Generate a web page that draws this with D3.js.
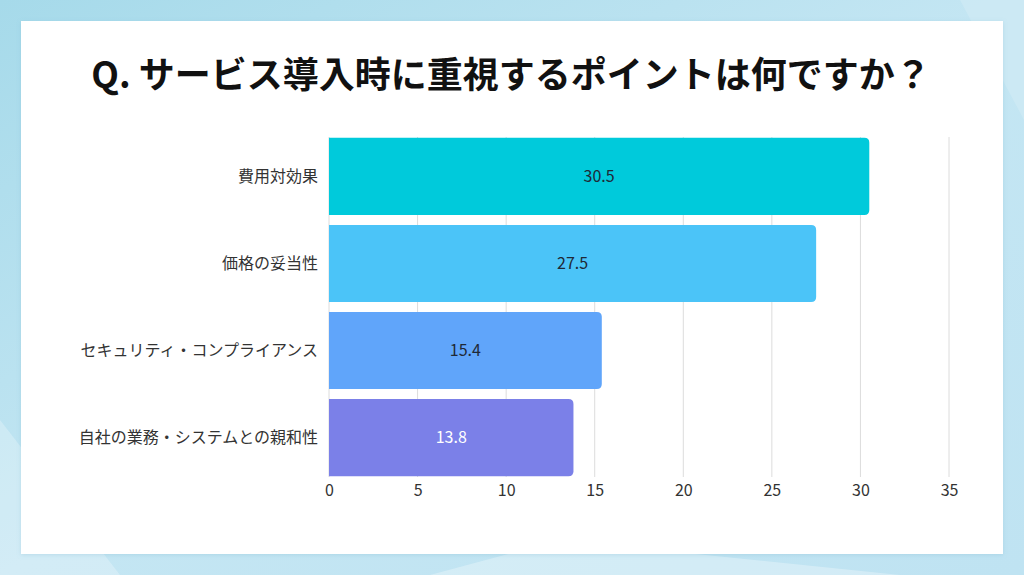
<!DOCTYPE html>
<html>
<head>
<meta charset="utf-8">
<script src="https://cdn.jsdelivr.net/npm/d3@7"></script>
<style>
  html, body { margin: 0; padding: 0; }
  body { width: 1024px; height: 575px; overflow: hidden; }
  svg { display: block; font-family: "Noto Sans CJK JP", "Noto Sans", sans-serif; }
</style>
</head>
<body>
<svg id="chart" width="1024" height="575"></svg>
<script>
const titleText = "Q. サービス導入時に重視するポイントは何ですか？";
const categories = ["費用対効果", "価格の妥当性", "セキュリティ・コンプライアンス", "自社の業務・システムとの親和性"];
const values = [30.5, 27.5, 15.4, 13.8];
const barColors = ["#00cadb", "#4bc4f8", "#60a5fa", "#7b80e8"];
const labelColors = ["#1f2937", "#1f2937", "#1f2937", "#ffffff"];
const tickValues = [0, 5, 10, 15, 20, 25, 30, 35];

const W = 1024, H = 575;
const margin = {left: 329, right: 75, top: 137, bottom: 98};
const svg = d3.select("#chart");

// background
var defs = svg.append("defs");
var bg = defs.append("linearGradient").attr("id", "bg")
    .attr("x1", 0).attr("y1", 0).attr("x2", 1).attr("y2", 1);
bg.append("stop").attr("offset", "0%").attr("stop-color", "#a6daea");
bg.append("stop").attr("offset", "50%").attr("stop-color", "#c4e6f3");
bg.append("stop").attr("offset", "100%").attr("stop-color", "#bfe3f2");
svg.append("rect").attr("width", W).attr("height", H).attr("fill", "url(#bg)");
// faint light shapes in the backdrop
svg.append("path").attr("d", "M0,420 L120,575 L0,575Z").attr("fill", "#ffffff").attr("opacity", 0.25);
svg.append("path").attr("d", "M430,575 L560,540 L900,575Z").attr("fill", "#ffffff").attr("opacity", 0.3);
svg.append("path").attr("d", "M1024,120 L960,0 L1024,0Z").attr("fill", "#ffffff").attr("opacity", 0.15);

// white card with a soft shadow
var sh = defs.append("filter").attr("id", "shadow").attr("x", "-5%").attr("y", "-5%").attr("width", "110%").attr("height", "110%");
sh.append("feDropShadow").attr("dx", 0).attr("dy", 1).attr("stdDeviation", 2)
    .attr("flood-color", "#6aa9c4").attr("flood-opacity", 0.25);
svg.append("rect").attr("x", 21).attr("y", 21).attr("width", 982).attr("height", 533)
    .attr("fill", "#ffffff").attr("filter", "url(#shadow)");

svg.append("text").attr("x", 511).attr("y", 88)
    .attr("text-anchor", "middle").attr("font-size", 36).attr("font-weight", 700)
    .attr("fill", "#111111").text(titleText);

var x = d3.scaleLinear().domain([0, 35]).range([margin.left, W - margin.right]);
var y = d3.scaleBand().domain(categories).range([margin.top, H - margin.bottom]).paddingInner(0.115).paddingOuter(0.01);

// gridlines
svg.append("g").selectAll("line").data(tickValues).join("line")
    .attr("x1", d => x(d)).attr("x2", d => x(d))
    .attr("y1", margin.top).attr("y2", H - margin.bottom)
    .attr("stroke", "#dcdcdc").attr("stroke-width", 1);

// x axis labels
var xAxis = d3.axisBottom(x).tickValues(tickValues).tickSize(0).tickPadding(8);
var gx = svg.append("g").attr("transform", "translate(0," + (H - margin.bottom) + ")").call(xAxis);
gx.select(".domain").remove();
gx.selectAll("text").attr("font-size", 16).attr("fill", "#333333")
    .attr("font-family", "'Noto Sans CJK JP', sans-serif");

// y axis labels
var yAxis = d3.axisLeft(y).tickSize(0).tickPadding(11);
var gy = svg.append("g").attr("transform", "translate(" + margin.left + ",0)").call(yAxis);
gy.select(".domain").remove();
gy.selectAll("text").attr("font-size", 16).attr("fill", "#333333")
    .attr("font-family", "'Noto Sans CJK JP', sans-serif");

// bars: square on the left, rounded on the right
var r = 5;
var barPath = function(d, i){
    var x0 = x(0), x1 = x(d), y0 = y(categories[i]), h = y.bandwidth();
    return "M" + x0 + "," + y0 + "H" + (x1 - r) + "Q" + x1 + "," + y0 + " " + x1 + "," + (y0 + r)
        + "V" + (y0 + h - r) + "Q" + x1 + "," + (y0 + h) + " " + (x1 - r) + "," + (y0 + h)
        + "H" + x0 + "Z";
};
svg.append("g").selectAll("path").data(values).join("path")
    .attr("d", barPath)
    .attr("fill", (d, i) => barColors[i]);

svg.append("g").selectAll("text").data(values).join("text")
    .attr("x", d => (x(0) + x(d)) / 2)
    .attr("y", (d, i) => y(categories[i]) + y.bandwidth() / 2)
    .attr("dy", "0.35em").attr("text-anchor", "middle")
    .attr("font-size", 16).attr("fill", (d, i) => labelColors[i])
    .text(d => d.toFixed(1));
</script>
</body>
</html>
